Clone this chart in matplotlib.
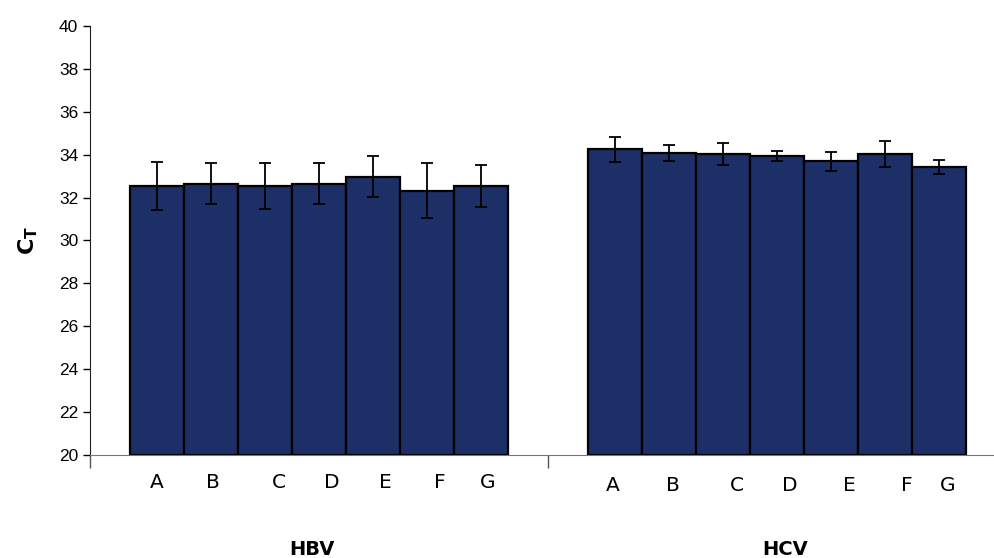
import matplotlib.pyplot as plt
import numpy as np

# data
groups = ['HBV', 'HCV']
categories = ['A', 'B', 'C', 'D', 'E', 'F', 'G']
hbv_ct = [32.55, 32.65, 32.55, 32.65, 32.98, 32.32, 32.55]
hbv_err = [1.13, 0.97, 1.08, 0.97, 0.97, 1.29, 0.97]
hcv_ct = [34.25, 34.09, 34.03, 33.94, 33.69, 34.03, 33.44]
hcv_err = [0.58, 0.37, 0.53, 0.25, 0.45, 0.60, 0.33]

# x positions of the letter labels (they sit a bit off the bar centres)
label_x = [[0.146, 0.269, 0.413, 0.528, 0.646, 0.764, 0.869],
           [1.142, 1.273, 1.413, 1.528, 1.657, 1.784, 1.873]]
group_label_x = [0.484, 1.517]

bar_color = '#1c2f66'
W, H = 994, 558

fig = plt.figure(figsize=(W / 100, H / 100), dpi=100)
# axes runs a bit past the right edge, as in the original
ax = fig.add_axes([90 / W, (H - 455) / H, 916 / W, 429 / H])

group_w = 0.825
bar_w = group_w / len(categories)
offsets = (np.arange(len(categories)) - (len(categories) - 1) / 2) * bar_w

for gi, (vals, errs) in enumerate([(hbv_ct, hbv_err), (hcv_ct, hcv_err)]):
    xs = gi + 0.5 + offsets
    heights = np.array(vals) - 20
    ax.bar(xs, heights, bottom=20, width=bar_w, color=bar_color,
           edgecolor='black', linewidth=1.6, zorder=2)
    ax.errorbar(xs, vals, yerr=errs, fmt='none', ecolor='black',
                elinewidth=1.3, capsize=4, capthick=1.3, zorder=3)
    # category letters
    for lx, cat in zip(label_x[gi], categories):
        ax.text(lx, -0.063 - 0.007 * gi, cat, transform=ax.get_xaxis_transform(),
                ha='center', va='center', fontsize=14.5, family='DejaVu Sans')
    # group name underneath
    ax.text(group_label_x[gi], -0.233, groups[gi],
            transform=ax.get_xaxis_transform(), ha='center', va='baseline',
            fontsize=14, fontweight='bold', family='DejaVu Sans')

ax.set_xlim(0, 2)
ax.set_ylim(20, 40)
ax.set_yticks(np.arange(20, 41, 2))
ax.set_xticks([0, 1, 2])
ax.set_xticklabels([])
ax.tick_params(axis='x', direction='out', length=9, width=1, color='#555555')
ax.tick_params(axis='y', direction='out', length=5, width=1, labelsize=12.5)
for lbl in ax.get_yticklabels():
    lbl.set_family('Liberation Sans')

ax.spines['top'].set_visible(False)
ax.spines['right'].set_visible(False)
ax.spines['left'].set_color('#222222')
ax.spines['bottom'].set_color('#777777')

ax.set_ylabel(r'$\mathbf{C_T}$', fontsize=16, labelpad=14)

fig.savefig('out.png', dpi=100)
